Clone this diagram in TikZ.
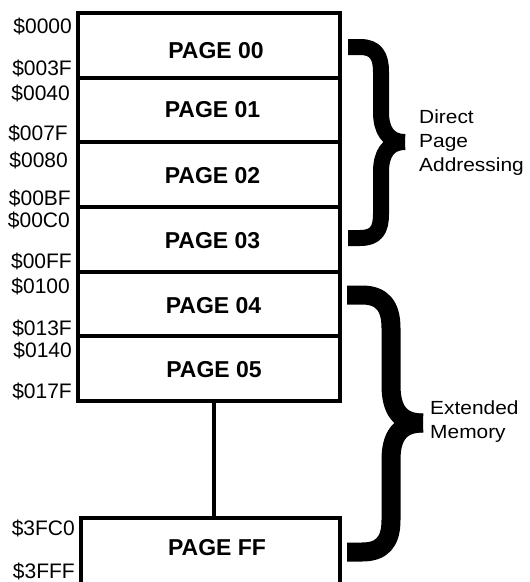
\documentclass[tikz,border=0pt]{standalone}
\usepackage{fontspec}
\setmainfont{Liberation Sans}
\begin{document}
\begin{tikzpicture}[x=1pt,y=-1pt,
  pagebox/.style={draw=black,line width=4pt,minimum width=262pt,minimum height=64.67pt,inner sep=0pt,fill=white},
  pagetxt/.style={anchor=base,inner sep=0pt,font=\fontsize{23}{27}\bfseries\selectfont},
  addr/.style={anchor=base east,inner sep=0pt,font=\fontsize{21}{25}\selectfont},
  side/.style={anchor=west,inner sep=0pt,align=left,xscale=1.1,font=\fontsize{19}{24}\selectfont},
  bracepath/.style={line cap=butt,line join=round,draw=black}]
\useasboundingbox (0,0) rectangle (530,582);
\clip (0,0) rectangle (530,582);
\fill[white] (0,0) rectangle (530,582);
% page boxes
\node[pagebox] (p00) at (209,45.33) {};
\node[pagebox] (p01) at (209,110) {};
\node[pagebox] (p02) at (209,174.67) {};
\node[pagebox] (p03) at (209,239.33) {};
\node[pagebox] (p04) at (209,304) {};
\node[pagebox] (p05) at (209,368.67) {};
\node[pagebox,minimum width=259pt,minimum height=80pt] (pff) at (210.5,558) {};
% connector
\draw[line width=4pt] ([xshift=5pt]p05.south) -- ([xshift=3.5pt]pff.north);
% page labels
\node[pagetxt] (t00) at (216,58) {PAGE 00};
\node[pagetxt] (t01) at (212.5,117) {PAGE 01};
\node[pagetxt] (t02) at (212.5,183) {PAGE 02};
\node[pagetxt] (t03) at (212.5,248) {PAGE 03};
\node[pagetxt] (t04) at (213.5,313) {PAGE 04};
\node[pagetxt] (t05) at (214,377) {PAGE 05};
\node[pagetxt] (tff) at (217,555) {PAGE FF};
% addresses
\node[addr] (a0000) at (72,33) {\$0000};
\node[addr] (a003F) at (72,75) {\$003F};
\node[addr] (a0040) at (70,100) {\$0040};
\node[addr] (a007F) at (68,140) {\$007F};
\node[addr] (a0080) at (68,167) {\$0080};
\node[addr] (a00BF) at (71,205) {\$00BF};
\node[addr] (a00C0) at (70,227) {\$00C0};
\node[addr] (a00FF) at (72,268) {\$00FF};
\node[addr] (a0100) at (70,293) {\$0100};
\node[addr] (a013F) at (72,335) {\$013F};
\node[addr] (a0140) at (72,357) {\$0140};
\node[addr] (a017F) at (72,398) {\$017F};
\node[addr] (a3FC0) at (75,535) {\$3FC0};
\node[addr] (a3FFF) at (75,578) {\$3FFF};
% brace 1
\draw[bracepath,line width=16pt] (348,47) -- (360,47) .. controls (376,47) and (381,56) .. (381,72) -- (381,112) .. controls (381,130) and (388,142) .. (405,142);
\draw[bracepath,line width=16pt] (405,142) .. controls (388,142) and (381,154) .. (381,172) -- (381,214) .. controls (381,230) and (376,238) .. (360,238) -- (348,238);
% brace 2
\draw[bracepath,line width=19pt] (347,295) -- (362,295) .. controls (382,295) and (391,306) .. (391,328) -- (391,385) .. controls (391,410) and (400,423) .. (423,423);
\draw[bracepath,line width=19pt] (423,423) .. controls (400,423) and (391,436) .. (391,460) -- (391,520) .. controls (391,542) and (382,552) .. (362,552) -- (347,552);
% side texts
\node[side] (dpa) at (419,143) {Direct\\Page\\Addressing};
\node[side] (ext) at (430,422) {Extended\\Memory};
\end{tikzpicture}
\end{document}
